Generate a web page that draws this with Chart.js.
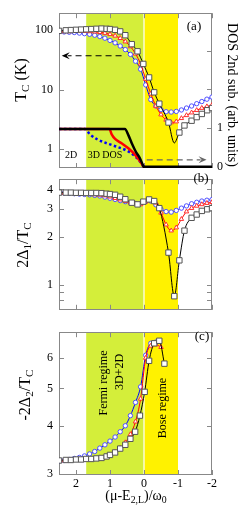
<!DOCTYPE html>
<html>
<head>
<meta charset="utf-8">
<script src="https://cdn.jsdelivr.net/npm/chart.js@4.4.1/dist/chart.umd.min.js"></script>
<style>
body { margin: 0; width: 252px; height: 522px; position: relative; overflow: hidden; background: #fff;
       font-family: 'Liberation Serif', 'Times New Roman', serif; color: #000; }
canvas { position: absolute; left: 0; }
.t { position: absolute; white-space: nowrap; line-height: 1; transform: translate(-50%, -50%); }
.up { transform: translate(-50%, -50%) rotate(-90deg); }
.down { transform: translate(-50%, -50%) rotate(90deg); }
sub { font-size: 70%; vertical-align: -0.25em; }
</style>
</head>
<body>
<canvas id="panelA" width="252" height="182" style="top:0px"></canvas>
<canvas id="panelB" width="252" height="157" style="top:166px"></canvas>
<canvas id="panelC" width="252" height="203" style="top:319px"></canvas>

<div class="t up" style="left:22px; top:80px; font-size:16px">T<sub>C</sub> (K)</div>
<div class="t down" style="left:232px; top:95px; font-size:14px">DOS 2nd sub. (arb. units)</div>
<div class="t up" style="left:24px; top:245px; font-size:16px">2Δ<sub>1</sub>/T<sub>C</sub></div>
<div class="t up" style="left:26px; top:395px; font-size:16px">-2Δ<sub>2</sub>/T<sub>C</sub></div>
<div class="t" style="left:136px; top:497px; font-size:14px">(μ-E<sub>2,L</sub>)/ω<sub>0</sub></div>

<div class="t" style="left:194px; top:25px; font-size:13px">(a)</div>
<div class="t" style="left:201px; top:177px; font-size:13px">(b)</div>
<div class="t" style="left:202px; top:335px; font-size:13px">(c)</div>
<div class="t" style="left:71px; top:155px; font-size:10px">2D</div>
<div class="t" style="left:105px; top:155px; font-size:10px">3D DOS</div>
<div class="t up" style="left:103px; top:383px; font-size:12px">Fermi regime</div>
<div class="t up" style="left:119px; top:372px; font-size:12px">3D+2D</div>
<div class="t up" style="left:162px; top:408px; font-size:12px">Bose regime</div>

<script>
// x axis: (mu - E2L) / omega0
const xTicks = [2, 1, 0, -1, -2];
const fermiBand = [1.7, 0];
const boseBand = [0, -1];

// blue circles and red triangles share this grid
const xGrid = [2.5, 2.35, 2.2, 2.05, 1.9, 1.75, 1.6, 1.45, 1.3, 1.15, 1.0, 0.85, 0.7, 0.55, 0.4, 0.25, 0.1,
  -0.05, -0.2, -0.35, -0.5, -0.65, -0.8, -0.95, -1.1, -1.25, -1.4, -1.55, -1.7, -1.85, -2.0];
const xBlack = [2.5, 2.3, 2.15, 2.0, 1.85, 1.7, 1.55, 1.4, 1.25, 1.1, 1.0, 0.85, 0.7, 0.55, 0.36, 0.19, 0.02,
  -0.15, -0.3, -0.45, -0.72, -0.89, -1.04, -1.19, -1.4, -1.55, -1.7, -1.86, -2.0];

// (a) Tc in K
const tcBlue = [94, 93, 92, 91, 89, 87, 85, 82, 78, 73, 67, 61, 54, 47, 39, 30, 22,
  12, 6.8, 5.3, 4.6, 4.25, 4.2, 4.3, 4.55, 4.9, 5.3, 5.8, 6.3, 6.9, 7.5];
const tcRed = [94, 95, 95, 96, 96, 96, 95, 94, 92, 89, 85, 80, 73, 64, 53, 40, 27,
  15, 8.5, 5.3, 3.8, 3.1, 2.8, 2.9, 3.3, 3.7, 4.1, 4.5, 4.9, 5.2, 5.5];
const tcBlack = [97, 99, 100, 101, 102, 103, 104, 105, 106, 105, 104, 101, 95, 82, 58, 44, 27,
  16, 9, 5.8, 2.8, 1.27, 1.9, 2.5, 3.0, 3.45, 3.9, 4.5, 4.9];
const tcTicks = [1, 10, 100];

// (a) DOS of the 2nd subband, right axis
const dosXBlack = [2.5, 0.56, 0.46, 0.36, 0.24, 0.12, 0.04, 0.01, -2];
const dosBlack = [0.98, 0.98, 0.82, 0.61, 0.39, 0.22, 0.06, 0, 0];
const dosXRed = [2.5, 1.02, 0.95, 0.85, 0.66, 0.46, 0.26, 0.12, 0.04, 0.01];
const dosRed = [0.98, 0.98, 0.84, 0.72, 0.61, 0.48, 0.31, 0.15, 0.04, 0];
const dosXBlue = [2.5, 1.74, 1.59, 1.39, 1.1, 0.8, 0.51, 0.26, 0.12, 0.01];
const dosBlue = [0.98, 0.98, 0.84, 0.72, 0.61, 0.52, 0.42, 0.27, 0.14, 0];
const dosTicks = [0, 1, 2, 3];
const dosLabels = [0, 1];

// (b) 2*Delta1/Tc
const g1Blue = [3.82, 3.8, 3.78, 3.76, 3.74, 3.72, 3.7, 3.67, 3.64, 3.58, 3.52, 3.46, 3.4, 3.35, 3.3, 3.26, 3.25,
  3.35, 3.38, 3.2, 3.0, 2.9, 2.88, 2.95, 3.05, 3.15, 3.25, 3.32, 3.38, 3.42, 3.45];
const g1Red = [3.8, 3.8, 3.79, 3.78, 3.77, 3.76, 3.74, 3.72, 3.7, 3.66, 3.6, 3.52, 3.45, 3.38, 3.3, 3.24, 3.22,
  3.35, 3.42, 3.3, 2.85, 2.4, 2.2, 2.3, 2.6, 2.9, 3.05, 3.15, 3.22, 3.28, 3.32];
const g1Black = [3.82, 3.82, 3.82, 3.81, 3.81, 3.8, 3.8, 3.8, 3.79, 3.76, 3.74, 3.7, 3.6, 3.47, 3.3, 3.22, 3.35,
  3.46, 3.38, 3.05, 1.6, 0.85, 1.43, 2.2, 2.65, 2.78, 2.93, 3.0, 3.05];
const g1Ticks = [0.8, 0.9, 1, 2, 3, 4];
const g1Labels = [1, 2, 3, 4];

// (c) -2*Delta2/Tc
const xBlueC = xGrid.slice(0, 20);
const g2Blue = [3.24, 3.25, 3.27, 3.29, 3.31, 3.34, 3.38, 3.43, 3.5, 3.57, 3.65, 3.74, 3.86, 4.0, 4.25, 4.6, 5.05,
  6.1, 6.55, 6.6];
const xRedC = xGrid.slice(0, 21);
const g2Red = [3.24, 3.25, 3.26, 3.26, 3.27, 3.27, 3.27, 3.28, 3.29, 3.31, 3.35, 3.42, 3.5, 3.62, 3.8, 4.1, 4.7,
  6.0, 6.45, 6.5, 6.4];
const xBlackC = [2.5, 2.3, 2.15, 2.0, 1.85, 1.7, 1.55, 1.4, 1.25, 1.1, 1.0, 0.85, 0.7, 0.55, 0.4, 0.26, 0.12,
  -0.02, -0.15, -0.3, -0.45, -0.6];
const g2Black = [3.25, 3.26, 3.26, 3.27, 3.27, 3.28, 3.28, 3.29, 3.3, 3.33, 3.36, 3.41, 3.49, 3.57, 3.7, 3.86, 4.25,
  4.9, 5.9, 6.55, 6.65, 5.8];
const g2Ticks = [3, 4, 5, 6];

// dashed arrows in (a): [x from, x to, y]
const arrowTc = [0.66, 2.42, 37];
const arrowDos = [-0.08, -1.84, 0.18];

Chart.defaults.font.family = "'Liberation Serif', 'Times New Roman', serif";
Chart.defaults.font.size = 12;
Chart.defaults.color = '#000';

const pts = (xs, ys) => xs.map((x, i) => ({x: x, y: ys[i]}));

function series(xs, ys, color, style, r, edge, axis) {
  return {
    data: pts(xs, ys), yAxisID: axis || 'y',
    borderColor: color, borderWidth: 1, cubicInterpolationMode: 'monotone',
    pointStyle: style, pointRadius: r, pointBorderWidth: 1,
    pointBorderColor: edge, pointBackgroundColor: '#fff'
  };
}
function dos(xs, ys, color, dash) {
  return {
    data: pts(xs, ys), yAxisID: 'y2', borderColor: color, borderWidth: 2.5,
    borderDash: dash || [], cubicInterpolationMode: 'monotone', pointRadius: 0
  };
}

const setTicks = list => scale => { scale.ticks = list.map(v => ({value: v})); };

function logAxis(min, max, ticks, labels) {
  return {
    type: 'logarithmic', position: 'left', min: min, max: max,
    afterBuildTicks: setTicks(ticks),
    afterFit: s => { s.width = 59; },
    grid: {display: false, drawTicks: false}, border: {display: false},
    ticks: {padding: 6, autoSkip: false, maxRotation: 0,
      callback: v => labels.includes(v) ? String(v) : ''}
  };
}

const hiddenX = {type: 'linear', reverse: true, min: -2, max: 2.5, display: false};

function line(ctx, x0, y0, x1, y1) {
  ctx.beginPath(); ctx.moveTo(x0, y0); ctx.lineTo(x1, y1); ctx.stroke();
}

const deco = {
  id: 'deco',
  beforeDatasetsDraw(chart, args, opts) {
    const ctx = chart.ctx, a = chart.chartArea, x = chart.scales.x;
    ctx.save();
    let p0 = x.getPixelForValue(fermiBand[0]), p1 = x.getPixelForValue(fermiBand[1]);
    ctx.fillStyle = '#d4ee3a';
    ctx.fillRect(p0, a.top, p1 - p0, a.bottom - a.top);
    p0 = x.getPixelForValue(boseBand[0]); p1 = x.getPixelForValue(boseBand[1]);
    ctx.fillStyle = '#fff200';
    ctx.fillRect(p0, a.top, p1 - p0, a.bottom - a.top);
    ctx.strokeStyle = '#fff'; ctx.lineWidth = 1.2;
    line(ctx, p0, a.top, p0, a.bottom);

    ctx.strokeStyle = '#888'; ctx.lineWidth = 1;
    ctx.strokeRect(Math.round(a.left) + 0.5, Math.round(a.top) + 0.5,
      Math.round(a.right - a.left) - 1, Math.round(a.bottom - a.top) - 1);
    xTicks.forEach(v => {
      const px = Math.round(x.getPixelForValue(v)) + 0.5;
      line(ctx, px, a.top, px, a.top + 5);
      line(ctx, px, a.bottom, px, a.bottom - 5);
    });
    opts.sides.forEach(s => {
      const sc = chart.scales[s.axis];
      s.ticks.forEach(v => {
        const py = Math.round(sc.getPixelForValue(v)) + 0.5;
        if (s.left) line(ctx, a.left, py, a.left + 5, py);
        if (s.right) line(ctx, a.right, py, a.right - 5, py);
      });
    });
    ctx.restore();
  },
  afterDatasetsDraw(chart, args, opts) {
    if (!opts.arrows) return;
    const ctx = chart.ctx, x = chart.scales.x;
    opts.arrows.forEach(ar => {
      const sc = chart.scales[ar.axis];
      const xa = x.getPixelForValue(ar.pos[0]), xb = x.getPixelForValue(ar.pos[1]);
      const y = sc.getPixelForValue(ar.pos[2]);
      const dir = Math.sign(xb - xa);
      ctx.save();
      ctx.strokeStyle = ar.color; ctx.fillStyle = ar.color; ctx.lineWidth = 1.2;
      ctx.setLineDash([6, 4]);
      line(ctx, xa, y, xb - dir * 6, y);
      ctx.setLineDash([]);
      ctx.beginPath();
      ctx.moveTo(xb, y);
      ctx.lineTo(xb - dir * 8, y - 3.5);
      ctx.lineTo(xb - dir * 5, y);
      ctx.lineTo(xb - dir * 8, y + 3.5);
      ctx.closePath(); ctx.fill();
      ctx.restore();
    });
  }
};

const common = {
  responsive: false, animation: false, events: [],
  plugins: {legend: {display: false}, tooltip: {enabled: false}}
};

// the Tc dip of the black curve is a line vertex without a marker
const tcBlackSet = series(xBlack, tcBlack, '#000', 'rect', 3.8, '#555');
const tcBlackMin = tcBlack.indexOf(Math.min(...tcBlack));
tcBlackSet.pointRadius = c => c.dataIndex === tcBlackMin ? 0 : 3.8;

new Chart(document.getElementById('panelA'), {
  type: 'line',
  data: {datasets: [
    dos(dosXBlack, dosBlack, '#000'),
    dos(dosXRed, dosRed, '#ff0000'),
    dos(dosXBlue, dosBlue, '#0000ff', [2.5, 2.5]),
    tcBlackSet,
    series(xGrid, tcRed, '#ff0000', 'triangle', 2.6, '#ff3030'),
    series(xGrid, tcBlue, '#0000ff', 'circle', 2.2, '#5050ff')
  ]},
  options: Object.assign({}, common, {
    layout: {padding: {top: 12, bottom: 14, left: 0, right: 0}},
    plugins: Object.assign({}, common.plugins, {deco: {
      sides: [{axis: 'y', ticks: tcTicks, left: true}, {axis: 'y2', ticks: dosTicks, right: true}],
      arrows: [{pos: arrowTc, axis: 'y', color: '#000'}, {pos: arrowDos, axis: 'y2', color: '#666'}]
    }}),
    scales: {
      x: hiddenX,
      y: logAxis(0.482, 192, tcTicks, tcTicks),
      y2: {
        type: 'linear', position: 'right', min: -0.03, max: 3.97,
        afterBuildTicks: setTicks(dosTicks),
        afterFit: s => { s.width = 40; },
        grid: {display: false, drawTicks: false}, border: {display: false},
        ticks: {padding: 5, callback: v => dosLabels.includes(v) ? String(v) : ''}
      }
    }
  }),
  plugins: [deco]
});

new Chart(document.getElementById('panelB'), {
  type: 'line',
  data: {datasets: [
    series(xBlack, g1Black, '#000', 'rect', 3.8, '#555'),
    series(xGrid, g1Red, '#ff0000', 'triangle', 2.6, '#ff3030'),
    series(xGrid, g1Blue, '#0000ff', 'circle', 2.2, '#5050ff')
  ]},
  options: Object.assign({}, common, {
    layout: {padding: {top: 2, bottom: 2, left: 0, right: 40}},
    plugins: Object.assign({}, common.plugins, {deco: {
      sides: [{axis: 'y', ticks: g1Ticks, left: true, right: true}]
    }}),
    scales: {x: hiddenX, y: logAxis(0.698, 4.64, g1Ticks, g1Labels)}
  }),
  plugins: [deco]
});

new Chart(document.getElementById('panelC'), {
  type: 'line',
  data: {datasets: [
    series(xBlackC, g2Black, '#000', 'rect', 3.8, '#555'),
    series(xRedC, g2Red, '#ff0000', 'triangle', 2.6, '#ff3030'),
    series(xBlueC, g2Blue, '#0000ff', 'circle', 2.2, '#5050ff')
  ]},
  options: Object.assign({}, common, {
    layout: {padding: {top: 2, bottom: 0, left: 0, right: 40}},
    plugins: Object.assign({}, common.plugins, {deco: {
      sides: [{axis: 'y', ticks: g2Ticks, left: true, right: true}]
    }}),
    scales: {
      x: {
        type: 'linear', reverse: true, min: -2, max: 2.5,
        afterBuildTicks: setTicks(xTicks),
        afterFit: s => { s.height = 47; },
        grid: {display: false, drawTicks: false}, border: {display: false},
        ticks: {padding: 2, autoSkip: false, maxRotation: 0}
      },
      y: logAxis(2.98, 7.0, g2Ticks, g2Ticks)
    }
  }),
  plugins: [deco]
});
</script>
</body>
</html>
